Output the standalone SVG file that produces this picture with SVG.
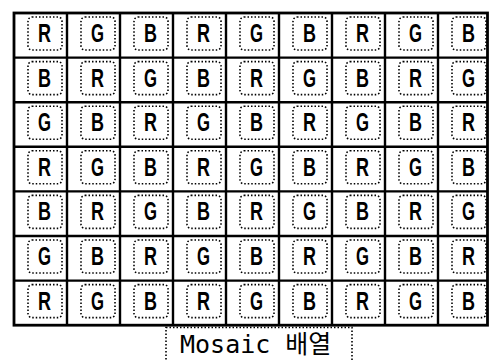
<svg xmlns="http://www.w3.org/2000/svg" width="489" height="360" viewBox="0 0 489 360">
<style>
.box{fill:none;stroke:#000;stroke-width:1.6;stroke-dasharray:1.5 2}
.lt{font-family:"Liberation Sans","DejaVu Sans",sans-serif;font-weight:bold;font-size:26px;text-anchor:middle;fill:#000}
.grid{stroke:#000;stroke-width:2.4;fill:none}
.cap{font-family:"DejaVu Sans Mono","Noto Sans CJK KR",monospace;font-size:25px;fill:#000}
</style>
<rect width="489" height="360" fill="#fff"/>
<g id="grid" class="grid">
<rect x="14" y="13" width="473.5" height="312.2" stroke-width="2.8"/>
<line x1="67" y1="13" x2="67" y2="325"/>
<line x1="120" y1="13" x2="120" y2="325"/>
<line x1="173" y1="13" x2="173" y2="325"/>
<line x1="226" y1="13" x2="226" y2="325"/>
<line x1="279" y1="13" x2="279" y2="325"/>
<line x1="332" y1="13" x2="332" y2="325"/>
<line x1="385" y1="13" x2="385" y2="325"/>
<line x1="438" y1="13" x2="438" y2="325"/>
<line x1="14" y1="57.6" x2="487.5" y2="57.6"/>
<line x1="14" y1="102.2" x2="487.5" y2="102.2"/>
<line x1="14" y1="146.8" x2="487.5" y2="146.8"/>
<line x1="14" y1="191.4" x2="487.5" y2="191.4"/>
<line x1="14" y1="236" x2="487.5" y2="236"/>
<line x1="14" y1="280.6" x2="487.5" y2="280.6"/>
</g>
<defs><rect id="bx" class="box" x="14" y="4" width="34" height="33" rx="4"/></defs>
<g id="cells">
<g id="c-1-1" transform="translate(14,13)"><use href="#bx"/><text class="lt" x="30.5" y="29" textLength="13" lengthAdjust="spacingAndGlyphs">R</text></g>
<g id="c-1-2" transform="translate(67,13)"><use href="#bx"/><text class="lt" x="30.5" y="29" textLength="13" lengthAdjust="spacingAndGlyphs">G</text></g>
<g id="c-1-3" transform="translate(120,13)"><use href="#bx"/><text class="lt" x="30.5" y="29" textLength="13" lengthAdjust="spacingAndGlyphs">B</text></g>
<g id="c-1-4" transform="translate(173,13)"><use href="#bx"/><text class="lt" x="30.5" y="29" textLength="13" lengthAdjust="spacingAndGlyphs">R</text></g>
<g id="c-1-5" transform="translate(226,13)"><use href="#bx"/><text class="lt" x="30.5" y="29" textLength="13" lengthAdjust="spacingAndGlyphs">G</text></g>
<g id="c-1-6" transform="translate(279,13)"><use href="#bx"/><text class="lt" x="30.5" y="29" textLength="13" lengthAdjust="spacingAndGlyphs">B</text></g>
<g id="c-1-7" transform="translate(332,13)"><use href="#bx"/><text class="lt" x="30.5" y="29" textLength="13" lengthAdjust="spacingAndGlyphs">R</text></g>
<g id="c-1-8" transform="translate(385,13)"><use href="#bx"/><text class="lt" x="30.5" y="29" textLength="13" lengthAdjust="spacingAndGlyphs">G</text></g>
<g id="c-1-9" transform="translate(438,13)"><use href="#bx"/><text class="lt" x="30.5" y="29" textLength="13" lengthAdjust="spacingAndGlyphs">B</text></g>

<g id="c-2-1" transform="translate(14,57.6)"><use href="#bx"/><text class="lt" x="30.5" y="29" textLength="13" lengthAdjust="spacingAndGlyphs">B</text></g>
<g id="c-2-2" transform="translate(67,57.6)"><use href="#bx"/><text class="lt" x="30.5" y="29" textLength="13" lengthAdjust="spacingAndGlyphs">R</text></g>
<g id="c-2-3" transform="translate(120,57.6)"><use href="#bx"/><text class="lt" x="30.5" y="29" textLength="13" lengthAdjust="spacingAndGlyphs">G</text></g>
<g id="c-2-4" transform="translate(173,57.6)"><use href="#bx"/><text class="lt" x="30.5" y="29" textLength="13" lengthAdjust="spacingAndGlyphs">B</text></g>
<g id="c-2-5" transform="translate(226,57.6)"><use href="#bx"/><text class="lt" x="30.5" y="29" textLength="13" lengthAdjust="spacingAndGlyphs">R</text></g>
<g id="c-2-6" transform="translate(279,57.6)"><use href="#bx"/><text class="lt" x="30.5" y="29" textLength="13" lengthAdjust="spacingAndGlyphs">G</text></g>
<g id="c-2-7" transform="translate(332,57.6)"><use href="#bx"/><text class="lt" x="30.5" y="29" textLength="13" lengthAdjust="spacingAndGlyphs">B</text></g>
<g id="c-2-8" transform="translate(385,57.6)"><use href="#bx"/><text class="lt" x="30.5" y="29" textLength="13" lengthAdjust="spacingAndGlyphs">R</text></g>
<g id="c-2-9" transform="translate(438,57.6)"><use href="#bx"/><text class="lt" x="30.5" y="29" textLength="13" lengthAdjust="spacingAndGlyphs">G</text></g>

<g id="c-3-1" transform="translate(14,102.2)"><use href="#bx"/><text class="lt" x="30.5" y="29" textLength="13" lengthAdjust="spacingAndGlyphs">G</text></g>
<g id="c-3-2" transform="translate(67,102.2)"><use href="#bx"/><text class="lt" x="30.5" y="29" textLength="13" lengthAdjust="spacingAndGlyphs">B</text></g>
<g id="c-3-3" transform="translate(120,102.2)"><use href="#bx"/><text class="lt" x="30.5" y="29" textLength="13" lengthAdjust="spacingAndGlyphs">R</text></g>
<g id="c-3-4" transform="translate(173,102.2)"><use href="#bx"/><text class="lt" x="30.5" y="29" textLength="13" lengthAdjust="spacingAndGlyphs">G</text></g>
<g id="c-3-5" transform="translate(226,102.2)"><use href="#bx"/><text class="lt" x="30.5" y="29" textLength="13" lengthAdjust="spacingAndGlyphs">B</text></g>
<g id="c-3-6" transform="translate(279,102.2)"><use href="#bx"/><text class="lt" x="30.5" y="29" textLength="13" lengthAdjust="spacingAndGlyphs">R</text></g>
<g id="c-3-7" transform="translate(332,102.2)"><use href="#bx"/><text class="lt" x="30.5" y="29" textLength="13" lengthAdjust="spacingAndGlyphs">G</text></g>
<g id="c-3-8" transform="translate(385,102.2)"><use href="#bx"/><text class="lt" x="30.5" y="29" textLength="13" lengthAdjust="spacingAndGlyphs">B</text></g>
<g id="c-3-9" transform="translate(438,102.2)"><use href="#bx"/><text class="lt" x="30.5" y="29" textLength="13" lengthAdjust="spacingAndGlyphs">R</text></g>

<g id="c-4-1" transform="translate(14,146.8)"><use href="#bx"/><text class="lt" x="30.5" y="29" textLength="13" lengthAdjust="spacingAndGlyphs">R</text></g>
<g id="c-4-2" transform="translate(67,146.8)"><use href="#bx"/><text class="lt" x="30.5" y="29" textLength="13" lengthAdjust="spacingAndGlyphs">G</text></g>
<g id="c-4-3" transform="translate(120,146.8)"><use href="#bx"/><text class="lt" x="30.5" y="29" textLength="13" lengthAdjust="spacingAndGlyphs">B</text></g>
<g id="c-4-4" transform="translate(173,146.8)"><use href="#bx"/><text class="lt" x="30.5" y="29" textLength="13" lengthAdjust="spacingAndGlyphs">R</text></g>
<g id="c-4-5" transform="translate(226,146.8)"><use href="#bx"/><text class="lt" x="30.5" y="29" textLength="13" lengthAdjust="spacingAndGlyphs">G</text></g>
<g id="c-4-6" transform="translate(279,146.8)"><use href="#bx"/><text class="lt" x="30.5" y="29" textLength="13" lengthAdjust="spacingAndGlyphs">B</text></g>
<g id="c-4-7" transform="translate(332,146.8)"><use href="#bx"/><text class="lt" x="30.5" y="29" textLength="13" lengthAdjust="spacingAndGlyphs">R</text></g>
<g id="c-4-8" transform="translate(385,146.8)"><use href="#bx"/><text class="lt" x="30.5" y="29" textLength="13" lengthAdjust="spacingAndGlyphs">G</text></g>
<g id="c-4-9" transform="translate(438,146.8)"><use href="#bx"/><text class="lt" x="30.5" y="29" textLength="13" lengthAdjust="spacingAndGlyphs">B</text></g>

<g id="c-5-1" transform="translate(14,191.4)"><use href="#bx"/><text class="lt" x="30.5" y="29" textLength="13" lengthAdjust="spacingAndGlyphs">B</text></g>
<g id="c-5-2" transform="translate(67,191.4)"><use href="#bx"/><text class="lt" x="30.5" y="29" textLength="13" lengthAdjust="spacingAndGlyphs">R</text></g>
<g id="c-5-3" transform="translate(120,191.4)"><use href="#bx"/><text class="lt" x="30.5" y="29" textLength="13" lengthAdjust="spacingAndGlyphs">G</text></g>
<g id="c-5-4" transform="translate(173,191.4)"><use href="#bx"/><text class="lt" x="30.5" y="29" textLength="13" lengthAdjust="spacingAndGlyphs">B</text></g>
<g id="c-5-5" transform="translate(226,191.4)"><use href="#bx"/><text class="lt" x="30.5" y="29" textLength="13" lengthAdjust="spacingAndGlyphs">R</text></g>
<g id="c-5-6" transform="translate(279,191.4)"><use href="#bx"/><text class="lt" x="30.5" y="29" textLength="13" lengthAdjust="spacingAndGlyphs">G</text></g>
<g id="c-5-7" transform="translate(332,191.4)"><use href="#bx"/><text class="lt" x="30.5" y="29" textLength="13" lengthAdjust="spacingAndGlyphs">B</text></g>
<g id="c-5-8" transform="translate(385,191.4)"><use href="#bx"/><text class="lt" x="30.5" y="29" textLength="13" lengthAdjust="spacingAndGlyphs">R</text></g>
<g id="c-5-9" transform="translate(438,191.4)"><use href="#bx"/><text class="lt" x="30.5" y="29" textLength="13" lengthAdjust="spacingAndGlyphs">G</text></g>

<g id="c-6-1" transform="translate(14,236)"><use href="#bx"/><text class="lt" x="30.5" y="29" textLength="13" lengthAdjust="spacingAndGlyphs">G</text></g>
<g id="c-6-2" transform="translate(67,236)"><use href="#bx"/><text class="lt" x="30.5" y="29" textLength="13" lengthAdjust="spacingAndGlyphs">B</text></g>
<g id="c-6-3" transform="translate(120,236)"><use href="#bx"/><text class="lt" x="30.5" y="29" textLength="13" lengthAdjust="spacingAndGlyphs">R</text></g>
<g id="c-6-4" transform="translate(173,236)"><use href="#bx"/><text class="lt" x="30.5" y="29" textLength="13" lengthAdjust="spacingAndGlyphs">G</text></g>
<g id="c-6-5" transform="translate(226,236)"><use href="#bx"/><text class="lt" x="30.5" y="29" textLength="13" lengthAdjust="spacingAndGlyphs">B</text></g>
<g id="c-6-6" transform="translate(279,236)"><use href="#bx"/><text class="lt" x="30.5" y="29" textLength="13" lengthAdjust="spacingAndGlyphs">R</text></g>
<g id="c-6-7" transform="translate(332,236)"><use href="#bx"/><text class="lt" x="30.5" y="29" textLength="13" lengthAdjust="spacingAndGlyphs">G</text></g>
<g id="c-6-8" transform="translate(385,236)"><use href="#bx"/><text class="lt" x="30.5" y="29" textLength="13" lengthAdjust="spacingAndGlyphs">B</text></g>
<g id="c-6-9" transform="translate(438,236)"><use href="#bx"/><text class="lt" x="30.5" y="29" textLength="13" lengthAdjust="spacingAndGlyphs">R</text></g>

<g id="c-7-1" transform="translate(14,280.6)"><use href="#bx"/><text class="lt" x="30.5" y="29" textLength="13" lengthAdjust="spacingAndGlyphs">R</text></g>
<g id="c-7-2" transform="translate(67,280.6)"><use href="#bx"/><text class="lt" x="30.5" y="29" textLength="13" lengthAdjust="spacingAndGlyphs">G</text></g>
<g id="c-7-3" transform="translate(120,280.6)"><use href="#bx"/><text class="lt" x="30.5" y="29" textLength="13" lengthAdjust="spacingAndGlyphs">B</text></g>
<g id="c-7-4" transform="translate(173,280.6)"><use href="#bx"/><text class="lt" x="30.5" y="29" textLength="13" lengthAdjust="spacingAndGlyphs">R</text></g>
<g id="c-7-5" transform="translate(226,280.6)"><use href="#bx"/><text class="lt" x="30.5" y="29" textLength="13" lengthAdjust="spacingAndGlyphs">G</text></g>
<g id="c-7-6" transform="translate(279,280.6)"><use href="#bx"/><text class="lt" x="30.5" y="29" textLength="13" lengthAdjust="spacingAndGlyphs">B</text></g>
<g id="c-7-7" transform="translate(332,280.6)"><use href="#bx"/><text class="lt" x="30.5" y="29" textLength="13" lengthAdjust="spacingAndGlyphs">R</text></g>
<g id="c-7-8" transform="translate(385,280.6)"><use href="#bx"/><text class="lt" x="30.5" y="29" textLength="13" lengthAdjust="spacingAndGlyphs">G</text></g>
<g id="c-7-9" transform="translate(438,280.6)"><use href="#bx"/><text class="lt" x="30.5" y="29" textLength="13" lengthAdjust="spacingAndGlyphs">B</text></g>
</g>
<g id="caption">
<rect class="box" x="166" y="327.5" width="186" height="40"/>
<text class="cap" x="180" y="353">Mosaic 배열</text>
</g>
</svg>
